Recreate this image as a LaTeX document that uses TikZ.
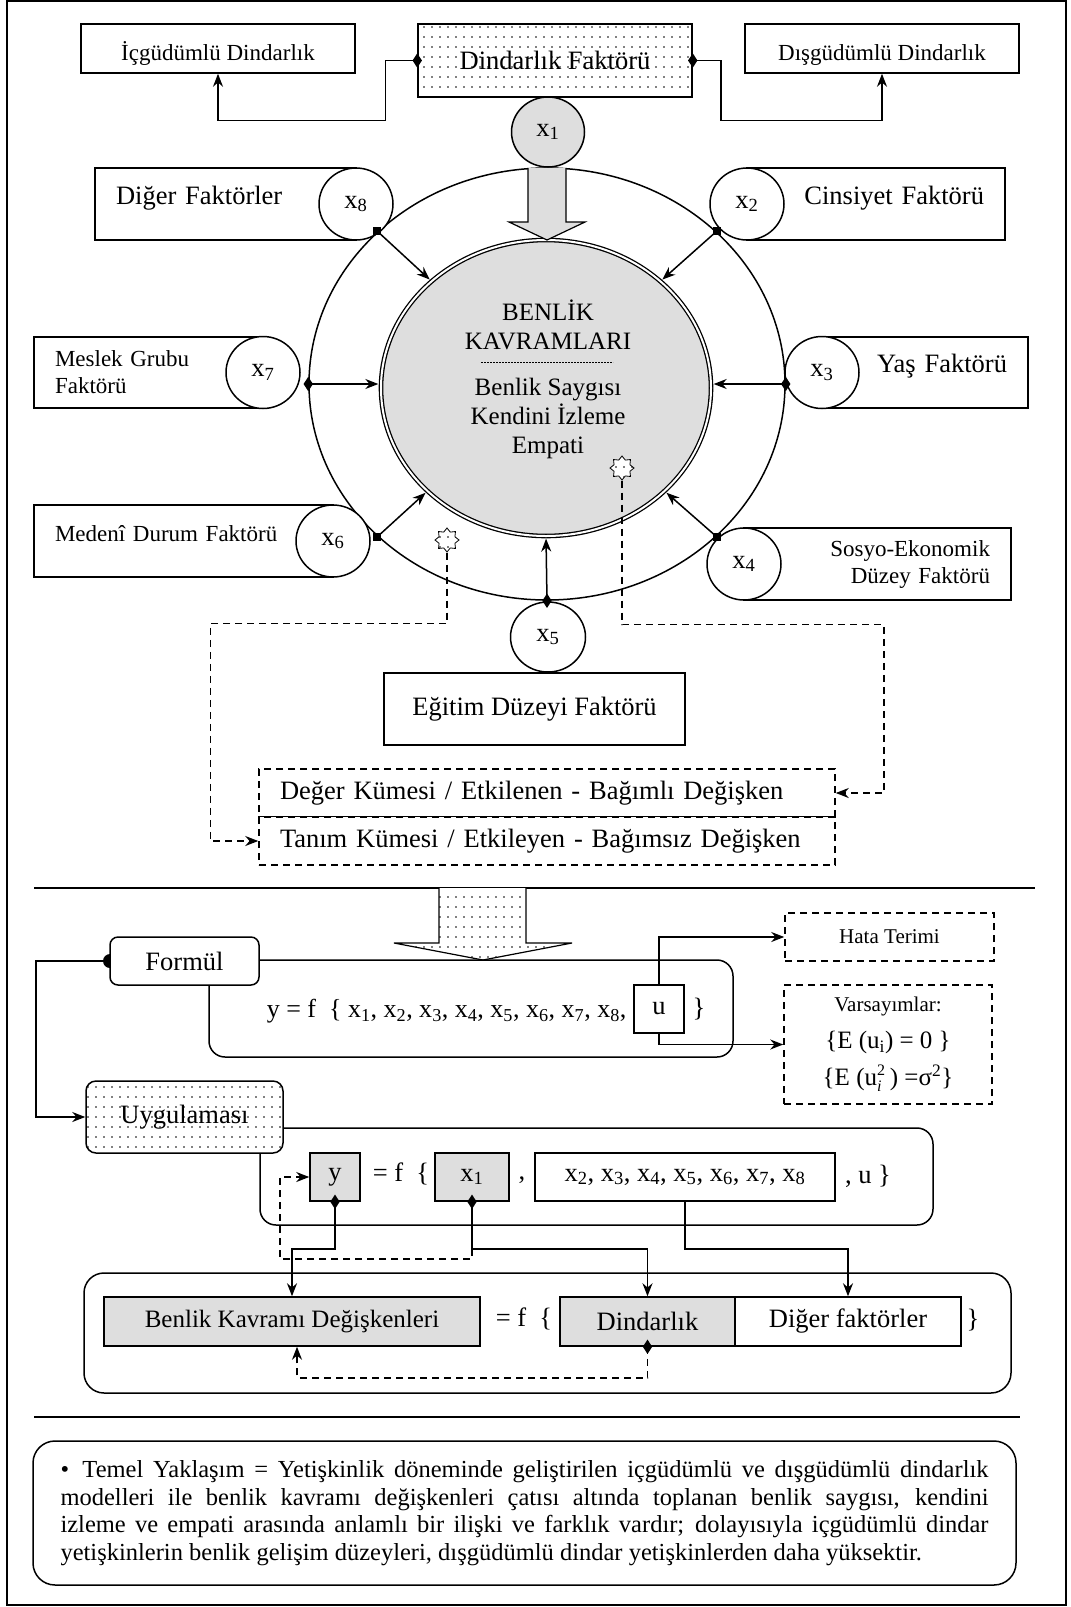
\documentclass[tikz,border=0pt]{standalone}
\usepackage{fontspec}
\setmainfont{Liberation Serif}
\usepackage{tikz}
\usetikzlibrary{shapes.geometric,arrows.meta,patterns.meta}
\definecolor{gray200}{HTML}{DEDEDE}
\newcommand{\buyuk}{\fontsize{26.5}{31}\selectfont}
\newcommand{\orta}{\fontsize{25}{29}\selectfont}
\newcommand{\kucuk}{\fontsize{23}{27}\selectfont}
\newcommand{\minik}{\fontsize{21}{25}\selectfont}
\newcommand{\govde}{\fontsize{24.5}{27.7}\selectfont}
\newcommand{\ufak}{\fontsize{16}{16}\selectfont}
\tikzdeclarepattern{name=seyreknokta, type=uncolored,
  bounding box={(-4pt,-5pt) and (4pt,5pt)}, tile size={(8pt,10pt)},
  code={\pgfpathcircle{\pgfpointorigin}{0.8pt}\pgfusepath{fill}}}
\tikzstyle{kutu}=[rectangle, draw=black, fill=white, inner sep=0pt, font=\buyuk]
\tikzstyle{oval}=[ellipse, draw=black, fill=white, inner sep=0pt, font=\buyuk, minimum width=74pt, minimum height=72pt]
\tikzstyle{gri}=[kutu, fill=gray200]
\tikzstyle{noktali}=[preaction={fill=white}, pattern=seyreknokta]
\tikzstyle{kesik}=[dash pattern=on 7pt off 5pt]
\tikzstyle{kap}=[rectangle, draw=black, rounded corners=16pt, inner sep=0pt]
\tikzstyle{solda}=[align=left, inner xsep=21pt]
\tikzstyle{sagda}=[align=right, inner xsep=21pt]
\tikzstyle{yukari}=[text height=19pt, text depth=19pt]
\tikzstyle{asagi}=[text height=24pt, text depth=1pt]
\tikzstyle{yazi}=[inner sep=0pt, font=\buyuk]
\tikzstyle{elmas}=[diamond, fill=black, inner sep=0pt, minimum width=10pt, minimum height=15pt]
\tikzstyle{kare}=[rectangle, fill=black, inner sep=0pt, minimum size=8pt]
\tikzstyle{yildiz}=[star, star points=8, star point ratio=1.4, draw=black, line width=0.8pt, preaction={fill=white}, pattern=seyreknokta, inner sep=0pt, minimum size=24pt]

\begin{document}
\begin{tikzpicture}[x=1pt, y=-1pt, line width=1.5pt, >={Stealth[length=13pt,width=10pt]}]
	\useasboundingbox (0,0) rectangle (1071,1607);
	\draw[line width=1.2pt] (7,1) rectangle (1066,1605);
	% dindarlik
	\node[kutu, asagi, font=\kucuk, minimum width=274pt, minimum height=49pt](ic) at (218,48.5) {İçgüdümlü Dindarlık};
	\node[kutu, noktali, minimum width=274pt, minimum height=73pt](df) at (555,60.5) {Dindarlık Faktörü};
	\node[kutu, asagi, font=\kucuk, minimum width=274pt, minimum height=49pt](dis) at (882,48.5) {Dışgüdümlü Dindarlık};
	\draw[->] (df.west) -- ++(-32,0) -- ++(0,60) -| (ic.south);
	\draw[->] (df.east) -- ++(28,0) -- ++(0,60) -| (dis.south);
	\node[elmas](m1) at (df.west) {};
	\node[elmas](m2) at (df.east) {};
	% halka
	\node[oval, minimum width=476pt, minimum height=432pt](ring) at (547,384) {};
	\node[oval, fill=gray200, double, double distance=2pt, line width=1.3pt, minimum width=330pt, minimum height=296pt](core) at (546,388) {};
	\node[yazi, font=\orta, align=center](kbas) at (548,325) {BENLİK\\KAVRAMLARI};
	\draw[dash pattern=on 2pt off 1pt, line width=0.6pt] (481,362) -- (613,362);
	\node[yazi, font=\orta, align=center](kgov) at (548,418) {Benlik Saygısı\\Kendini İzleme\\Empati};
	\draw[fill=gray200, line width=1.2pt] (528,168) -- (528,222) -- (509,222) -- (547,240) -- (585,222) -- (566,222) -- (566,168);
	\node[oval, fill=gray200, minimum width=73pt, minimum height=70pt](x1) at (548,132) {x\textsubscript{1}};
	% faktorler
	\node[kutu, solda, yukari, text width=219pt, minimum height=72pt](b8) at (225.5,204) {Diğer Faktörler};
	\node[oval](x8) at (356,204) {x\textsubscript{8}};
	\node[kutu, sagda, yukari, text width=216pt, minimum height=72pt](b2) at (876,204) {Cinsiyet Faktörü};
	\node[oval](x2) at (747,204) {x\textsubscript{2}};
	\node[kutu, solda, font=\kucuk, text width=187pt, minimum height=71pt](b7) at (148.5,372.5) {Meslek Grubu\\Faktörü};
	\node[oval](x7) at (263,372.5) {x\textsubscript{7}};
	\node[kutu, sagda, yukari, text width=164pt, minimum height=71pt](b3) at (925,372.5) {Yaş Faktörü};
	\node[oval](x3) at (822,372.5) {x\textsubscript{3}};
	\node[kutu, solda, yukari, font=\kucuk, text width=257pt, minimum height=72pt](b6) at (183.5,541) {Medenî Durum Faktörü};
	\node[oval](x6) at (333,541) {x\textsubscript{6}};
	\node[kutu, sagda, font=\kucuk, text width=225pt, minimum height=72pt](b4) at (877.5,564) {Sosyo-Ekonomik\\Düzey Faktörü};
	\node[oval](x4) at (744,564) {x\textsubscript{4}};
	\node[kutu, minimum width=301pt, minimum height=72pt](b5) at (534.5,709) {Eğitim Düzeyi Faktörü};
	\node[oval, minimum width=75pt, minimum height=70pt](x5) at (548,637) {x\textsubscript{5}};
	\draw[->, shorten >=2pt] (ring.138) -- (core.137);
	\draw[->, shorten >=2pt] (ring.42) -- (core.43);
	\draw[->, shorten >=2pt] (ring.180) -- (ring.180 -| core.west);
	\draw[->, shorten >=2pt] (ring.0) -- (ring.0 -| core.east);
	\draw[->, shorten >=2pt] (ring.222) -- (core.221);
	\draw[->, shorten >=2pt] (ring.318) -- (core.319);
	\draw[->, shorten >=2pt] (ring.south) -- (core.south);
	\node[kare](m3) at (ring.138) {};
	\node[kare](m4) at (ring.42) {};
	\node[kare](m5) at (ring.222) {};
	\node[kare](m6) at (ring.318) {};
	\node[elmas](m7) at (ring.180) {};
	\node[elmas](m8) at (ring.0) {};
	\node[elmas](m9) at (ring.south) {};
	% kumeler
	\node[yildiz](s1) at (622,468) {};
	\node[yildiz](s2) at (447,540) {};
	\node[kutu, kesik, solda, text width=534pt, minimum height=48pt](deg) at (547,793) {Değer Kümesi / Etkilenen - Bağımlı Değişken};
	\node[kutu, kesik, solda, text width=534pt, minimum height=48pt](tan) at (547,841) {Tanım Kümesi / Etkileyen - Bağımsız Değişken};
	\draw[kesik, ->] (s2.south) -- ++(0,71) -| ([xshift=-48pt]tan.west) -- (tan.west);
	\draw[kesik, ->] (s1.south) -- ++(0,144) -| ([xshift=48pt]deg.east) -- (deg.east);
	\draw (34,888) -- (1035,888);
	% formul
	\draw[noktali, line width=1.2pt] (439,888) -- (439,943) -- (394,943) -- (483,960) -- (572,943) -- (526,943) -- (526,888);
	\node[kap, minimum width=524pt, minimum height=97pt](c1) at (471,1008.5) {};
	\node[circle, fill=black, inner sep=0pt, minimum size=14pt](nokta) at (110,961) {};
	\node[kutu, rounded corners=8pt, minimum width=149pt, minimum height=48pt](fm) at (184.5,961) {Formül};
	\node[yazi, font={\fontsize{26}{31}\selectfont}, anchor=west](fx) at (266,1011) {y = f ~\{ x\textsubscript{1}, x\textsubscript{2}, x\textsubscript{3}, x\textsubscript{4}, x\textsubscript{5}, x\textsubscript{6}, x\textsubscript{7}, x\textsubscript{8},};
	\node[kutu, minimum width=50pt, minimum height=48pt](u) at (659,1009) {u};
	\node[yazi](fk) at (699,1009) {\}};
	\node[kutu, kesik, font=\minik, minimum width=209pt, minimum height=48pt](hata) at (889.5,937) {Hata Terimi};
	\node[kutu, kesik, font={\fontsize{25}{37}\selectfont}, align=center, minimum width=208pt, minimum height=119pt](vars) at (888,1044.5) {{\minik Varsayımlar:}\\\{E (u\textsubscript{i}) = 0 \}\\\{E (u\rlap{\raisebox{10pt}{\ufak 2}}\raisebox{-6pt}{\ufak\textit{i}}\,\,) =σ\textsuperscript{2}\}};
	\draw[->] (u.north) |- (hata.west);
	\draw[->] (u.south) |- (vars.west);
	% uygulama
	\node[kap, minimum width=673pt, minimum height=97pt](c2) at (596.5,1176.5) {};
	\node[kutu, noktali, rounded corners=10pt, minimum width=197pt, minimum height=72pt](uy) at (184.5,1117) {Uygulaması};
	\draw[->] (nokta.center) -- ++(-74,0) |- (uy.west);
	\node[gri, minimum width=50pt, minimum height=48pt](yb) at (335,1177) {y};
	\node[yazi](fe1) at (401,1174) {= f~~\{};
	\node[gri, minimum width=74pt, minimum height=48pt](x1b) at (472,1177) {x\textsubscript{1}};
	\node[yazi](vir) at (522,1180) {,};
	\node[kutu, minimum width=300pt, minimum height=48pt](rest) at (685,1177) {x\textsubscript{2}, x\textsubscript{3}, x\textsubscript{4}, x\textsubscript{5}, x\textsubscript{6}, x\textsubscript{7}, x\textsubscript{8}};
	\node[yazi](uk) at (868,1176) {, u \}};
	\node[kap, rounded corners=20pt, minimum width=927pt, minimum height=120pt](c3) at (547.5,1333) {};
	\node[gri, font=\orta, minimum width=376pt, minimum height=49pt](bk) at (292,1321.5) {Benlik Kavramı Değişkenleri};
	\node[yazi](fe2) at (524,1319) {= f~~\{};
	\node[gri, minimum width=175pt, minimum height=49pt](dind) at (647.5,1321.5) {Dindarlık};
	\node[kutu, minimum width=226pt, minimum height=49pt](diger) at (848,1321.5) {Diğer faktörler};
	\node[yazi](kk) at (973,1320) {\}};
	\draw[->] (yb.south) -- ++(0,47) -| (bk.north);
	\draw[->] (x1b.south) -- ++(0,47) -| (dind.north);
	\draw[->] (rest.south) -- ++(0,47) -| (diger.north);
	\draw[kesik, ->] ([yshift=-47pt]x1b.south) -- ++(0,10) -- ++(-192,0) |- (yb.west);
	\draw[kesik, ->] (dind.south) -- ++(0,31) -| ([xshift=5pt]bk.south);
	\node[elmas](m10) at (yb.south) {};
	\node[elmas](m11) at (x1b.south) {};
	\node[elmas](m12) at (dind.south) {};
	\draw (34,1417) -- (1020,1417);
	% yaklasim
	\node[kap, rounded corners=22pt, minimum height=144pt, text width=928pt, inner xsep=27.5pt, align=justify, font=\govde](ozet) at (524.5,1513) {\hangindent=22pt\hangafter=1\noindent\makebox[22pt][l]{\textbullet}Temel Yaklaşım = Yetişkinlik döneminde geliştirilen içgüdümlü ve dışgüdümlü dindarlık\linebreak modelleri ile benlik kavramı değişkenleri çatısı altında toplanan benlik saygısı, kendini\linebreak izleme ve empati arasında anlamlı bir ilişki ve farklık vardır; dolayısıyla içgüdümlü dindar\linebreak yetişkinlerin benlik gelişim düzeyleri, dışgüdümlü dindar yetişkinlerden daha yüksektir.};
\end{tikzpicture}
\end{document}
